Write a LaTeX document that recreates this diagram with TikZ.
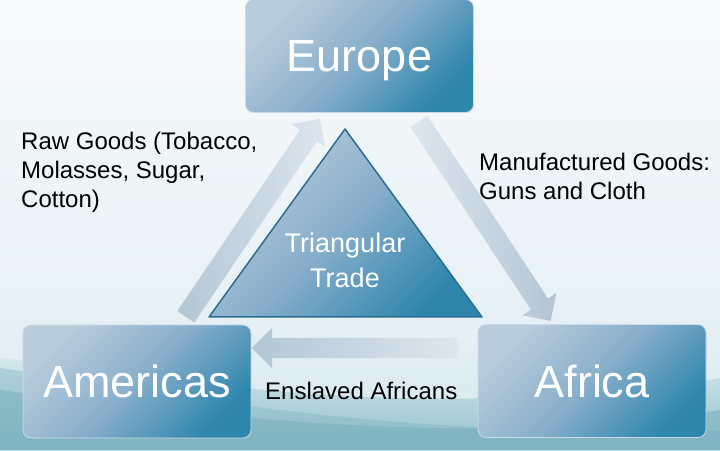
\documentclass[tikz,border=0pt]{standalone}
\usepackage{fontspec}
\setmainfont{Liberation Sans}
\usetikzlibrary{shapes.arrows}
\definecolor{bgtop}{HTML}{F8FBFC}
\definecolor{bgmid}{HTML}{E6F0F4}
\definecolor{wavelight}{HTML}{D3E7EC}
\definecolor{wavedark}{HTML}{78B0BE}
\definecolor{boxlight}{HTML}{B8CCDC}
\definecolor{boxmid}{HTML}{88AECB}
\definecolor{boxdark}{HTML}{2E86AD}
\definecolor{triedge}{HTML}{2B6E8E}
\definecolor{arrlight}{HTML}{DDE6EE}
\definecolor{arrdark}{HTML}{B3C6D5}
\tikzset{
  place/.style={rounded corners=8pt, draw=white!55!boxmid, line width=0.8pt,
    left color=boxlight, right color=boxdark, middle color=boxmid, shading angle=45,
    minimum width=228pt, minimum height=113pt, inner sep=0pt,
    text=white, font=\fontsize{45}{54}\selectfont, text height=32pt, text depth=0pt},
  flow/.style={single arrow, single arrow head extend=10pt, inner sep=0pt,
    minimum width=40pt, text height=20pt, text depth=0pt, text width=0pt,
    single arrow head indent=0pt, sloped, allow upside down, draw=none},
  label/.style={inner sep=0pt, font=\fontsize{24}{28.8}\selectfont, align=left, text=black}
}
\begin{document}
\begin{tikzpicture}[x=1pt,y=1pt]
\useasboundingbox (0,0) rectangle (720,450);
% background
\shade[top color=bgtop, bottom color=bgmid] (0,120) rectangle (720,450);
\shade[top color=bgmid, bottom color=wavelight] (0,0) rectangle (720,120);
\shade[top color=wavelight, bottom color=wavedark!80]
  (0,92) .. controls (180,70) and (420,25) .. (720,72) -- (720,0) -- (0,0) -- cycle;
\fill[wavedark, opacity=0.55]
  (0,60) .. controls (200,35) and (470,0) .. (720,40) -- (720,0) -- (0,0) -- cycle;
\fill[wavedark, opacity=0.35]
  (0,82) .. controls (150,60) and (380,10) .. (720,20) -- (720,0) -- (0,0) -- cycle;

% places
\node[place] (eu) at (359.5,394) {Europe};
\node[place] (am) at (137,68.5) {Americas};
\node[place] (af) at (592,69) {Africa};

% triangle
\coordinate (tA) at (345,321);
\coordinate (tB) at (209,133);
\coordinate (tC) at (482,133);
\shade[left color=boxlight, right color=boxdark, middle color=boxmid, shading angle=45]
  (tA) -- (tB) -- (tC) -- cycle;
\draw[triedge, line width=1.5pt, line join=round] (tA) -- (tB) -- (tC) -- cycle;
\node[text=white, font=\fontsize{27}{35}\selectfont, align=center, inner sep=0pt]
  (tt) at (345,190) {Triangular\\Trade};

% flow arrows
\coordinate (upT) at (183,129);
\coordinate (upH) at (317,327);
\coordinate (dnT) at (416,333);
\coordinate (dnH) at (548,133);
\coordinate (btT) at (463,102);
\coordinate (btH) at (257,102);
\path (upT) -- (upH) node[midway, flow, minimum height=239pt, left color=arrdark, right color=arrlight] (a1) {};
\path (dnT) -- (dnH) node[midway, flow, minimum height=239pt, left color=arrlight, right color=arrdark] (a2) {};
\path (btT) -- (btH) node[midway, flow, minimum height=206pt, left color=arrdark, right color=arrlight] (a3) {};

% labels
\node[label, anchor=north west] (raw) at (21,318) {Raw Goods (Tobacco,\\Molasses, Sugar,\\Cotton)};
\node[label, anchor=north west] (man) at (479,297) {Manufactured Goods:\\Guns and Cloth};
\node[label, anchor=base west] (ens) at (265,51) {Enslaved Africans};
\end{tikzpicture}
\end{document}
